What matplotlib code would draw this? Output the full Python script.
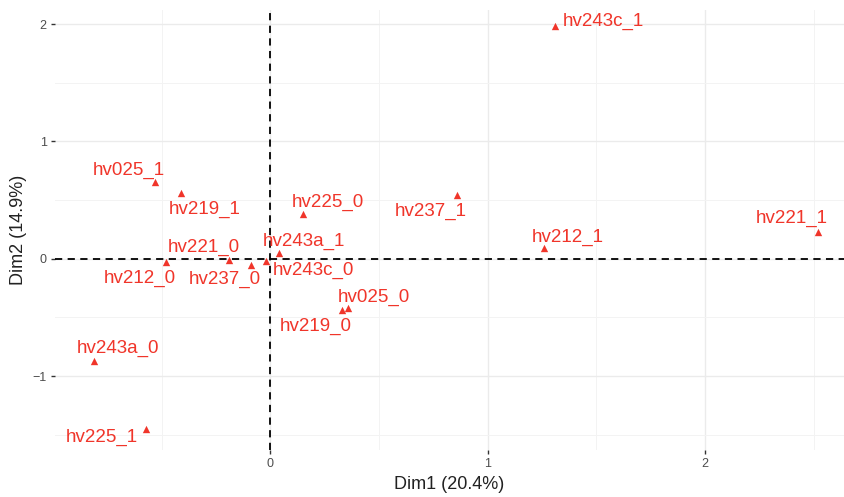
import numpy as np
import matplotlib
matplotlib.use("Agg")
from matplotlib import pyplot as plt

plt.rcParams['font.family'] = ['Liberation Sans', 'DejaVu Sans']

# ---------data-----------
names = ['hv243c_1', 'hv025_1', 'hv219_1', 'hv225_0', 'hv237_1', 'hv212_1',
         'hv221_1', 'hv221_0', 'hv212_0', 'hv237_0', 'hv243c_0', 'hv243a_1',
         'hv025_0', 'hv219_0', 'hv243a_0', 'hv225_1']
dim1 = [1.31, -0.53, -0.41, 0.15, 0.86, 1.26,
        2.52, -0.19, -0.48, -0.09, -0.02, 0.04,
        0.36, 0.33, -0.81, -0.57]
dim2 = [1.98, 0.65, 0.56, 0.38, 0.54, 0.09,
        0.23, -0.01, -0.03, -0.05, -0.02, 0.05,
        -0.42, -0.44, -0.87, -1.45]
xlabel = 'Dim1 (20.4%)'
ylabel = 'Dim2 (14.9%)'

# label offsets (px, right / up) -- repel-like placement
offs = [(48, 5), (-26, 12), (24, -16), (25, 12), (-26, -16), (24, 11),
        (-26, 13), (-25, 13), (-26, -16), (-26, -15), (48, -9), (25, 11),
        (25, 11), (-26, -16), (24, 12), (-44, -9)]

red = '#F0352A'

fig = plt.figure(figsize=(8.44, 4.97), dpi=100)
ax = fig.add_axes([55 / 844, 47 / 497, 789 / 844, 440 / 497])
ax.set_xlim(-0.99, 2.64)
ax.set_ylim(-1.63, 2.12)

# grid
ax.set_xticks([0, 1, 2])
ax.set_yticks([-1, 0, 1, 2])
ax.set_xticks([-0.5, 0.5, 1.5, 2.5], minor=True)
ax.set_yticks([-1.5, -0.5, 0.5, 1.5], minor=True)
ax.grid(True, which='major', color='#EBEBEB', lw=1.0)
ax.grid(True, which='minor', color='#F3F3F3', lw=0.7)
ax.set_axisbelow(True)
for s in ax.spines.values():
    s.set_visible(False)
ax.tick_params(which='major', length=3, width=1, color='#333333',
               labelcolor='#4D4D4D', labelsize=9, pad=3)
ax.tick_params(which='minor', length=0)

ax.axhline(0, color='black', ls=(0, (4, 3)), lw=1.3)
ax.axvline(0, color='black', ls=(0, (4, 3)), lw=1.3)

ax.scatter(dim1, dim2, marker='^', s=28, color=red, lw=0, zorder=3)
for n, x, y, (dx, dy) in zip(names, dim1, dim2, offs):
    ax.annotate(n, (x, y), xytext=(dx * 0.72, dy * 0.72), textcoords='offset points',
                ha='center', va='center', color=red, fontsize=13.5, zorder=4)

ax.set_xlabel(xlabel, fontsize=13, color='#222222', labelpad=4)
ax.set_ylabel(ylabel, fontsize=13, color='#222222', labelpad=4)

fig.savefig('out.png', dpi=100)
